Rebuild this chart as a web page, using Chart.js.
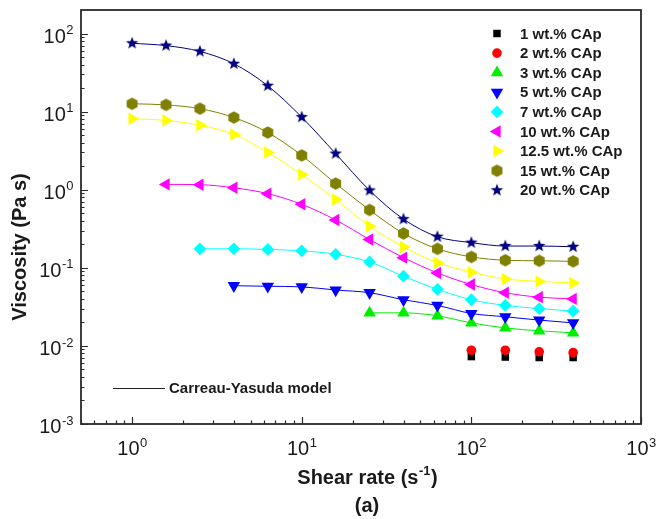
<!DOCTYPE html>
<html>
<head>
<meta charset="utf-8">
<script src="https://cdn.jsdelivr.net/npm/chart.js@4.4.1/dist/chart.umd.min.js"></script>
<style>
  html, body { margin: 0; padding: 0; background: #fff; }
  #wrap { width: 657px; height: 519px; }
</style>
</head>
<body>
<div id="wrap"><canvas id="viscChart" width="657" height="519"></canvas></div>
<script>
// shear rates (1/s); shorter series line up with the end of this list
const shearRate = [1, 1.585, 2.512, 3.981, 6.31, 10, 15.85, 25.12, 39.81, 63.1, 100, 158.5, 251.2, 398.1];

// viscosity (Pa s) per CAp loading
const cap1 = [0.0073, 0.0072, 0.0071, 0.0071];
const cap2 = [0.0088, 0.0088, 0.0084, 0.0082];
const cap3 = [0.0265, 0.0265, 0.0243, 0.0197, 0.017, 0.0156, 0.0147];
const cap5 = [0.059, 0.058, 0.057, 0.052, 0.048, 0.039, 0.033, 0.026, 0.0236, 0.0214, 0.0197];
const cap7 = [0.175, 0.175, 0.172, 0.165, 0.149, 0.119, 0.078, 0.053, 0.039, 0.033, 0.030, 0.028];
const cap10 = [1.17, 1.16, 1.06, 0.89, 0.65, 0.41, 0.23, 0.135, 0.086, 0.061, 0.048, 0.042, 0.040];
const cap125 = [8.1, 7.7, 6.7, 5.1, 3.0, 1.56, 0.75, 0.34, 0.185, 0.116, 0.088, 0.072, 0.067, 0.064];
const cap15 = [12.6, 12.2, 10.9, 8.4, 5.4, 2.75, 1.2, 0.55, 0.275, 0.175, 0.138, 0.125, 0.123, 0.121];
const cap20 = [75, 70, 59, 41, 21.4, 8.5, 2.9, 0.98, 0.42, 0.25, 0.21, 0.19, 0.19, 0.186];

const seriesLabels = ['1 wt.% CAp', '2 wt.% CAp', '3 wt.% CAp', '5 wt.% CAp', '7 wt.% CAp',
  '10 wt.% CAp', '12.5 wt.% CAp', '15 wt.% CAp', '20 wt.% CAp'];
const seriesValues = [cap1, cap2, cap3, cap5, cap7, cap10, cap125, cap15, cap20];

const xTicks = [1, 10, 100, 1000];
const yTicks = [0.001, 0.01, 0.1, 1, 10, 100];

const FONT = '"Liberation Sans", Arial, sans-serif';
const INK = '#1a1a1a';

function starImage(r, color) {
  const c = document.createElement('canvas');
  const s = Math.ceil(2 * r + 2);
  c.width = c.height = s;
  const g = c.getContext('2d');
  g.fillStyle = color;
  g.beginPath();
  for (let i = 0; i < 10; i++) {
    const rr = i % 2 ? r * 0.42 : r;
    const a = -Math.PI / 2 + i * Math.PI / 5;
    g.lineTo(s / 2 + rr * Math.cos(a), s / 2 + rr * Math.sin(a));
  }
  g.closePath();
  g.fill();
  return c;
}

function hexImage(r, color) {
  const c = document.createElement('canvas');
  const s = Math.ceil(2 * r + 2);
  c.width = c.height = s;
  const g = c.getContext('2d');
  g.fillStyle = color;
  g.beginPath();
  for (let i = 0; i < 6; i++) {
    const a = -Math.PI / 2 + i * Math.PI / 3;
    g.lineTo(s / 2 + r * Math.cos(a), s / 2 + r * Math.sin(a));
  }
  g.closePath();
  g.fill();
  return c;
}

// marker style for each series
const markers = [
  { color: '#000000', style: 'rect', radius: 5.3, rotation: 0, line: false },
  { color: '#ff0000', style: 'circle', radius: 4.8, rotation: 0, line: false },
  { color: '#00ee00', style: 'triangle', radius: 7.2, rotation: 0, line: true },
  { color: '#0000ff', style: 'triangle', radius: 7.2, rotation: 180, line: true },
  { color: '#00ffff', style: 'rectRot', radius: 6.4, rotation: 0, line: true },
  { color: '#ff00ff', style: 'triangle', radius: 7.2, rotation: 270, line: true },
  { color: '#ffff00', style: 'triangle', radius: 7.2, rotation: 90, line: true },
  { color: '#808000', style: hexImage(6.3, '#808000'), radius: 6.3, rotation: 0, line: true },
  { color: '#000080', style: starImage(6.6, '#000080'), radius: 6.6, rotation: 0, line: true }
];

const datasets = seriesValues.map((vals, i) => {
  const xs = shearRate.slice(shearRate.length - vals.length);
  const m = markers[i];
  return {
    label: seriesLabels[i],
    data: vals.map((v, j) => ({ x: xs[j], y: v })),
    showLine: m.line,
    borderColor: m.color,
    borderWidth: 1,
    cubicInterpolationMode: 'monotone',
    backgroundColor: m.color,
    pointStyle: m.style,
    pointRadius: m.radius,
    pointRotation: m.rotation,
    pointBorderWidth: 0,
    order: 20 - i
  };
});

function drawSup(ctx, base, sup, x, y, baseSize, supSize, align) {
  ctx.font = baseSize + 'px ' + FONT;
  const wb = ctx.measureText(base).width;
  ctx.font = supSize + 'px ' + FONT;
  const ws = ctx.measureText(sup).width;
  let left = x;
  if (align === 'center') left = x - (wb + ws) / 2;
  if (align === 'right') left = x - wb - ws;
  ctx.textAlign = 'left';
  ctx.textBaseline = 'alphabetic';
  ctx.font = baseSize + 'px ' + FONT;
  ctx.fillText(base, left, y);
  ctx.font = supSize + 'px ' + FONT;
  ctx.fillText(sup, left + wb + 0.5, y - baseSize * 0.42);
}

const frame = {
  id: 'frame',
  afterDraw(chart) {
    const { ctx, chartArea: a, scales: { x, y } } = chart;
    ctx.save();
    ctx.strokeStyle = '#2a2a2a';
    ctx.fillStyle = INK;
    ctx.lineWidth = 1.8;
    ctx.strokeRect(a.left, a.top, a.right - a.left, a.bottom - a.top);

    // inward ticks on bottom and left
    ctx.lineWidth = 1.2;
    ctx.beginPath();
    for (let d = 0.1; d <= 1000; d *= 10) {
      for (let k = 1; k <= 9; k++) {
        const v = +(k * d).toPrecision(3);
        if (v >= 0.5 && v <= 1000) {
          const px = Math.round(x.getPixelForValue(v)) + 0.5;
          const len = k === 1 ? 7 : 3.5;
          ctx.moveTo(px, a.bottom);
          ctx.lineTo(px, a.bottom - len);
        }
      }
    }
    for (let d = 0.001; d <= 100; d *= 10) {
      for (let k = 1; k <= 9; k++) {
        const v = +(k * d).toPrecision(3);
        if (v >= 0.001 && v < 200) {
          const py = Math.round(y.getPixelForValue(v)) + 0.5;
          const len = k === 1 ? 7 : 3.5;
          ctx.moveTo(a.left, py);
          ctx.lineTo(a.left + len, py);
        }
      }
    }
    ctx.stroke();

    // tick labels
    xTicks.forEach(v => {
      const px = x.getPixelForValue(v);
      drawSup(ctx, '10', String(Math.round(Math.log10(v))), px, a.bottom + 31, 20, 13, 'center');
    });
    yTicks.forEach(v => {
      const py = y.getPixelForValue(v);
      drawSup(ctx, '10', String(Math.round(Math.log10(v))), a.left - 8, py + 9, 20, 13, 'right');
    });

    // axis titles
    ctx.font = 'bold 20px ' + FONT;
    const t1 = 'Shear rate (s';
    const w1 = ctx.measureText(t1).width;
    ctx.font = 'bold 13px ' + FONT;
    const w2 = ctx.measureText('-1').width;
    ctx.font = 'bold 20px ' + FONT;
    const w3 = ctx.measureText(')').width;
    const cx = (a.left + a.right) / 2 + 6;
    let left = cx - (w1 + w2 + w3) / 2;
    ctx.textAlign = 'left';
    ctx.textBaseline = 'alphabetic';
    ctx.fillText(t1, left, 484);
    ctx.font = 'bold 13px ' + FONT;
    ctx.fillText('-1', left + w1 + 0.5, 475);
    ctx.font = 'bold 20px ' + FONT;
    ctx.fillText(')', left + w1 + w2 + 1, 484);

    ctx.textAlign = 'center';
    ctx.textBaseline = 'middle';
    ctx.fillText('(a)', cx, 506);

    ctx.save();
    ctx.translate(20, 247);
    ctx.rotate(-Math.PI / 2);
    ctx.fillText('Viscosity (Pa s)', 0, 0);
    ctx.restore();

    // series legend
    ctx.font = 'bold 15px ' + FONT;
    ctx.textAlign = 'left';
    ctx.textBaseline = 'middle';
    seriesLabels.forEach((lab, i) => {
      const m = markers[i];
      const ly = 33.5 + i * 19.6;
      ctx.fillStyle = m.color;
      Chart.helpers.drawPoint(ctx, { pointStyle: m.style, rotation: m.rotation, radius: m.radius, borderWidth: 0 }, 497, ly);
      ctx.fillStyle = INK;
      ctx.fillText(lab, 520, ly + 1);
    });

    // model legend
    ctx.strokeStyle = '#222';
    ctx.lineWidth = 1.2;
    ctx.beginPath();
    ctx.moveTo(113, 388.5);
    ctx.lineTo(165, 388.5);
    ctx.stroke();
    ctx.fillText('Carreau-Yasuda model', 169, 389);
    ctx.restore();
  }
};

new Chart(document.getElementById('viscChart').getContext('2d'), {
  type: 'scatter',
  data: { datasets: datasets },
  options: {
    responsive: false,
    animation: false,
    devicePixelRatio: 1,
    layout: { padding: { left: 81, right: 16, top: 10, bottom: 95 } },
    plugins: { legend: { display: false }, tooltip: { enabled: false } },
    scales: {
      x: { type: 'logarithmic', min: 0.5, max: 1000, display: false },
      y: { type: 'logarithmic', min: 0.001, max: 200, display: false }
    }
  },
  plugins: [frame]
});
</script>
</body>
</html>
